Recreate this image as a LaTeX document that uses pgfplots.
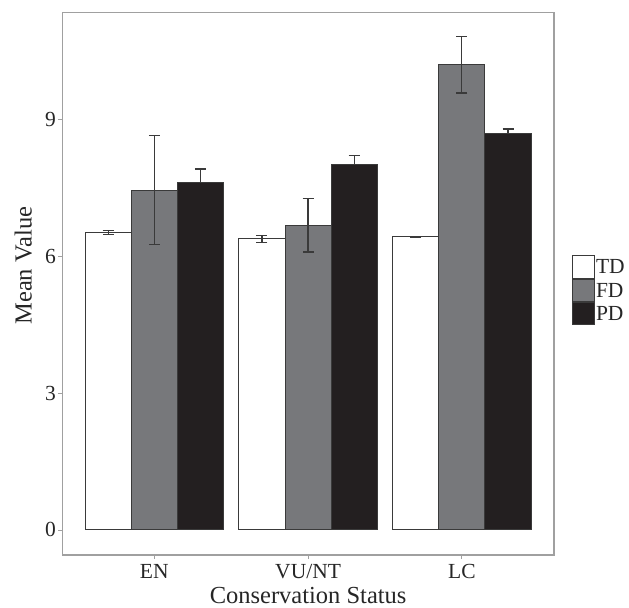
\documentclass[border=0pt]{standalone}
\usepackage{pgfplots}
\usepackage{pgfplotstable}
\pgfplotsset{compat=1.18}
\usepackage{fontspec}
\setmainfont{Liberation Serif}
\definecolor{fdgray}{HTML}{77787B}
\definecolor{pdblack}{HTML}{231F20}
\definecolor{edge}{HTML}{3A3A3A}
\definecolor{frame}{HTML}{A0A0A0}
\pgfplotsset{ybar legend/.style={legend image code/.code={\draw[##1] (0bp,-11.2bp) rectangle (22.4bp,11.2bp);}}}

\pgfplotstableread{
x y e
0 6.53 0.04
1 6.39 0.08
2 6.43 0.01
}\tdtab
\pgfplotstableread{
x y e
0 7.46 1.20
1 6.69 0.59
2 10.21 0.62
}\fdtab
\pgfplotstableread{
x y e
0 7.63 0.29
1 8.03 0.19
2 8.71 0.09
}\pdtab

\begin{document}
\begin{tikzpicture}
\useasboundingbox (0,0) rectangle (629bp,608bp);
\begin{axis}[
  at={(62.3bp,53bp)}, anchor=south west, scale only axis,
  width=491.7bp, height=542.7bp,
  xmin=-0.598, xmax=2.599, ymin=-0.55, ymax=11.36,
  ybar=0pt, bar width=0.3,
  xtick={0,1,2}, xticklabels={EN,VU/NT,LC},
  ytick={0,3,6,9},
  xtick pos=bottom, ytick pos=left,
  tick align=outside, major tick length=4bp,
  tick style={frame, line width=0.8bp},
  axis line style={frame, line width=1.2bp},
  /pgf/number format/assume math mode=true,
  tick label style={font=\fontsize{21.5bp}{24bp}\selectfont, text=black!85},
  yticklabel style={anchor=east, inner sep=0pt, xshift=-2.3bp},
  xticklabel style={anchor=base, inner sep=0pt, yshift=-19bp},
  label style={font=\fontsize{24.5bp}{28bp}\selectfont, text=black!85, inner sep=0pt},
  xlabel={Conservation Status},
  ylabel={Mean Value},
  xlabel style={at={(axis description cs:0.5,-0.090)}, anchor=base},
  ylabel style={at={(axis description cs:-0.0622,0.533)}, anchor=base},
  error bars/y dir=both, error bars/y explicit,
  error bars/error bar style={edge, line width=1.2bp},
  error bars/error mark options={edge, line width=1.2bp, mark size=5.5bp, rotate=90},
  legend style={at={(axis description cs:1.036,0.488)}, anchor=west, draw=none, fill=none,
    inner sep=0pt, row sep=0pt,
    nodes={inner xsep=0.8bp, inner ysep=0pt, text depth=0pt, font=\fontsize{21.5bp}{24bp}\selectfont, text=black!85}},
  legend cell align=left,
]
\addplot[fill=white, draw=edge, line width=0.9bp] table[x=x, y=y, y error=e] {\tdtab};
\addplot[fill=fdgray, draw=edge, line width=0.9bp] table[x=x, y=y, y error=e] {\fdtab};
\addplot[fill=pdblack, draw=edge, line width=0.9bp, error bars/y dir=plus] table[x=x, y=y, y error=e] {\pdtab};
\legend{TD,FD,PD}
\end{axis}
\end{tikzpicture}
\end{document}
